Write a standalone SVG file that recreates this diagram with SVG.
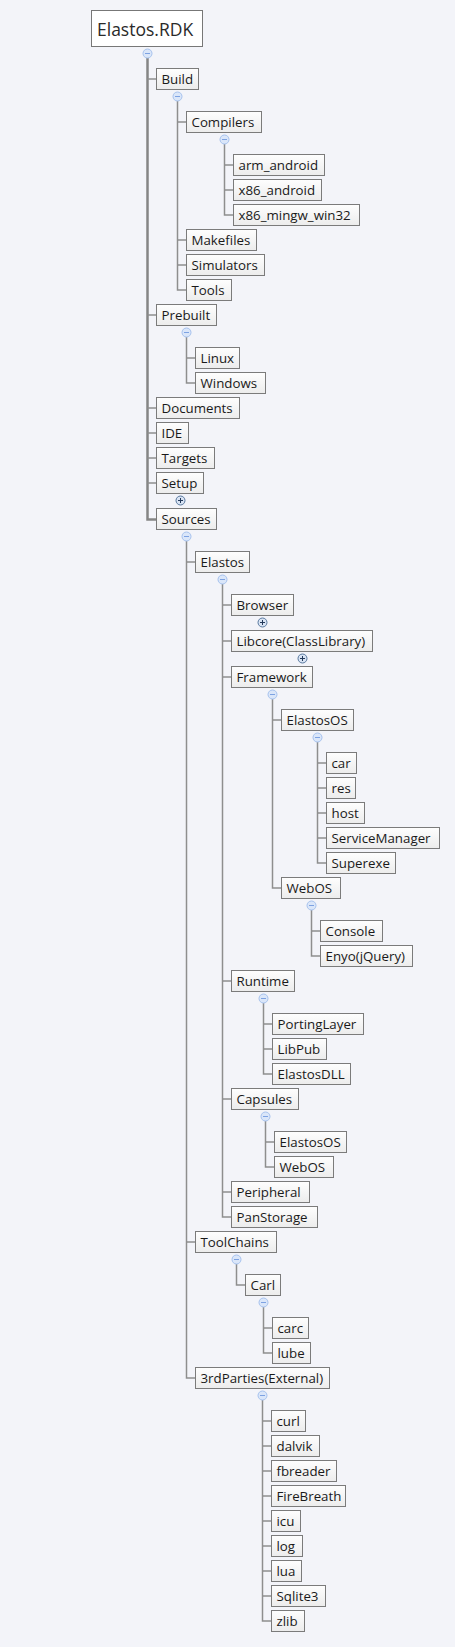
<svg xmlns="http://www.w3.org/2000/svg" width="455" height="1647" viewBox="0 0 455 1647">
<defs>
<linearGradient id="nf" x1="0" y1="0" x2="0" y2="1">
<stop offset="0" stop-color="#fefefe"/>
<stop offset="1" stop-color="#ececec"/>
</linearGradient>
<g id="minus"><circle r="4.5" fill="#dae6f9" stroke="#a6c2ee" stroke-width="1"/><path d="M-2.5,0H2.5" stroke="#7da2e2" stroke-width="1"/></g>
<g id="plus"><circle r="4.5" fill="#d8e3f3" stroke="#58789e" stroke-width="1"/><path d="M-2.5,0H2.5M0,-2.5V2.5" stroke="#23395a" stroke-width="1"/></g>
</defs>
<style>
.n rect{fill:url(#nf);stroke:#7b7b7b;stroke-width:1}
.n text{font-family:"Open Sans","Noto Sans","Liberation Sans",sans-serif;font-size:13.3px;fill:#1a1a1a}
.r rect{fill:#ffffff;stroke:#777777;stroke-width:1}
.r text{font-family:"Open Sans","Noto Sans","Liberation Sans",sans-serif;font-size:17.5px;fill:#2a2a2a}
.c path{fill:none;stroke:#8e8e8e;stroke-width:1.5}
.c path.main{stroke:#858585;stroke-width:2.5}
</style>
<rect width="455" height="1647" fill="#f3f4f9"/>
<g id="connectors" class="c">
<path class="main" d="M147.5,58V519.5H156.5"/>
<path d="M147.5,79H156.5M147.5,315H156.5M147.5,408H156.5M147.5,433H156.5M147.5,458H156.5M147.5,483H156.5"/>
<path d="M177.5,101V290H186.5M177.5,122H186.5M177.5,240H186.5M177.5,265H186.5"/>
<path d="M224.5,144V215H233.5M224.5,165H233.5M224.5,190H233.5"/>
<path d="M186.5,337V383H195.5M186.5,358H195.5"/>
<path d="M186.5,541V1378H195.5M186.5,562H195.5M186.5,1242H195.5"/>
<path d="M222.5,584V1217H231.5M222.5,605H231.5M222.5,641H231.5M222.5,677H231.5M222.5,981H231.5M222.5,1099H231.5M222.5,1192H231.5"/>
<path d="M272.5,699V888H281.5M272.5,720H281.5"/>
<path d="M317.5,742V863H326.5M317.5,763H326.5M317.5,788H326.5M317.5,813H326.5M317.5,838H326.5"/>
<path d="M311.5,910V956H320.5M311.5,931H320.5"/>
<path d="M263.5,1003V1074H272.5M263.5,1024H272.5M263.5,1049H272.5"/>
<path d="M265.5,1121V1167H274.5M265.5,1142H274.5"/>
<path d="M236.5,1264V1285H245.5"/>
<path d="M263.5,1307V1353H272.5M263.5,1328H272.5"/>
<path d="M262.5,1400V1621H271.5M262.5,1421H271.5M262.5,1446H271.5M262.5,1471H271.5M262.5,1496H271.5M262.5,1521H271.5M262.5,1546H271.5M262.5,1571H271.5M262.5,1596H271.5"/>
</g>
<g id="toggles">
<use href="#minus" x="147.5" y="53.5"/>
<use href="#minus" x="177.5" y="96.5"/>
<use href="#minus" x="224.5" y="139.5"/>
<use href="#minus" x="186.5" y="332.5"/>
<use href="#plus" x="180.5" y="500.5"/>
<use href="#minus" x="186.5" y="536.5"/>
<use href="#minus" x="222.5" y="579.5"/>
<use href="#plus" x="262.5" y="622.5"/>
<use href="#plus" x="302.5" y="658.5"/>
<use href="#minus" x="272.5" y="694.5"/>
<use href="#minus" x="317.5" y="737.5"/>
<use href="#minus" x="311.5" y="905.5"/>
<use href="#minus" x="263.5" y="998.5"/>
<use href="#minus" x="265.5" y="1116.5"/>
<use href="#minus" x="236.5" y="1259.5"/>
<use href="#minus" x="263.5" y="1302.5"/>
<use href="#minus" x="262.5" y="1395.5"/>
</g>
<g id="root" class="r"><rect x="91.5" y="10.5" width="111" height="36"/><text x="97" y="35.5">Elastos.RDK</text></g>
<g id="build" class="n"><rect x="156.5" y="68.5" width="42" height="21"/><text x="161.5" y="84">Build</text></g>
<g id="compilers" class="n"><rect x="186.5" y="111.5" width="75" height="21"/><text x="191.5" y="127">Compilers</text></g>
<g id="arm_android" class="n"><rect x="233.5" y="154.5" width="91" height="21"/><text x="238.5" y="170">arm_android</text></g>
<g id="x86_android" class="n"><rect x="233.5" y="179.5" width="88" height="21"/><text x="238.5" y="195">x86_android</text></g>
<g id="x86_mingw_win32" class="n"><rect x="233.5" y="204.5" width="126" height="21"/><text x="238.5" y="220">x86_mingw_win32</text></g>
<g id="makefiles" class="n"><rect x="186.5" y="229.5" width="70" height="21"/><text x="191.5" y="245">Makefiles</text></g>
<g id="simulators" class="n"><rect x="186.5" y="254.5" width="78" height="21"/><text x="191.5" y="270">Simulators</text></g>
<g id="tools" class="n"><rect x="186.5" y="279.5" width="45" height="21"/><text x="191.5" y="295">Tools</text></g>
<g id="prebuilt" class="n"><rect x="156.5" y="304.5" width="60" height="21"/><text x="161.5" y="320">Prebuilt</text></g>
<g id="linux" class="n"><rect x="195.5" y="347.5" width="44" height="21"/><text x="200.5" y="363">Linux</text></g>
<g id="windows" class="n"><rect x="195.5" y="372.5" width="70" height="21"/><text x="200.5" y="388">Windows</text></g>
<g id="documents" class="n"><rect x="156.5" y="397.5" width="83" height="21"/><text x="161.5" y="413">Documents</text></g>
<g id="ide" class="n"><rect x="156.5" y="422.5" width="32" height="21"/><text x="161.5" y="438">IDE</text></g>
<g id="targets" class="n"><rect x="156.5" y="447.5" width="58" height="21"/><text x="161.5" y="463">Targets</text></g>
<g id="setup" class="n"><rect x="156.5" y="472.5" width="47" height="21"/><text x="161.5" y="488">Setup</text></g>
<g id="sources" class="n"><rect x="156.5" y="508.5" width="60" height="21"/><text x="161.5" y="524">Sources</text></g>
<g id="elastos" class="n"><rect x="195.5" y="551.5" width="54" height="21"/><text x="200.5" y="567">Elastos</text></g>
<g id="browser" class="n"><rect x="231.5" y="594.5" width="62" height="21"/><text x="236.5" y="610">Browser</text></g>
<g id="libcore" class="n"><rect x="231.5" y="630.5" width="141" height="21"/><text x="236.5" y="646">Libcore(ClassLibrary)</text></g>
<g id="framework" class="n"><rect x="231.5" y="666.5" width="81" height="21"/><text x="236.5" y="682">Framework</text></g>
<g id="fw_elastosos" class="n"><rect x="281.5" y="709.5" width="72" height="21"/><text x="286.5" y="725">ElastosOS</text></g>
<g id="car" class="n"><rect x="326.5" y="752.5" width="30" height="21"/><text x="331.5" y="768">car</text></g>
<g id="res" class="n"><rect x="326.5" y="777.5" width="29" height="21"/><text x="331.5" y="793">res</text></g>
<g id="host" class="n"><rect x="326.5" y="802.5" width="38" height="21"/><text x="331.5" y="818">host</text></g>
<g id="servicemanager" class="n"><rect x="326.5" y="827.5" width="113" height="21"/><text x="331.5" y="843">ServiceManager</text></g>
<g id="superexe" class="n"><rect x="326.5" y="852.5" width="69" height="21"/><text x="331.5" y="868">Superexe</text></g>
<g id="fw_webos" class="n"><rect x="281.5" y="877.5" width="59" height="21"/><text x="286.5" y="893">WebOS</text></g>
<g id="console" class="n"><rect x="320.5" y="920.5" width="62" height="21"/><text x="325.5" y="936">Console</text></g>
<g id="enyo" class="n"><rect x="320.5" y="945.5" width="92" height="21"/><text x="325.5" y="961">Enyo(jQuery)</text></g>
<g id="runtime" class="n"><rect x="231.5" y="970.5" width="63" height="21"/><text x="236.5" y="986">Runtime</text></g>
<g id="portinglayer" class="n"><rect x="272.5" y="1013.5" width="91" height="21"/><text x="277.5" y="1029">PortingLayer</text></g>
<g id="libpub" class="n"><rect x="272.5" y="1038.5" width="54" height="21"/><text x="277.5" y="1054">LibPub</text></g>
<g id="elastosdll" class="n"><rect x="272.5" y="1063.5" width="78" height="21"/><text x="277.5" y="1079">ElastosDLL</text></g>
<g id="capsules" class="n"><rect x="231.5" y="1088.5" width="67" height="21"/><text x="236.5" y="1104">Capsules</text></g>
<g id="cap_elastosos" class="n"><rect x="274.5" y="1131.5" width="72" height="21"/><text x="279.5" y="1147">ElastosOS</text></g>
<g id="cap_webos" class="n"><rect x="274.5" y="1156.5" width="59" height="21"/><text x="279.5" y="1172">WebOS</text></g>
<g id="peripheral" class="n"><rect x="231.5" y="1181.5" width="78" height="21"/><text x="236.5" y="1197">Peripheral</text></g>
<g id="panstorage" class="n"><rect x="231.5" y="1206.5" width="86" height="21"/><text x="236.5" y="1222">PanStorage</text></g>
<g id="toolchains" class="n"><rect x="195.5" y="1231.5" width="81" height="21"/><text x="200.5" y="1247">ToolChains</text></g>
<g id="carl" class="n"><rect x="245.5" y="1274.5" width="35" height="21"/><text x="250.5" y="1290">Carl</text></g>
<g id="carc" class="n"><rect x="272.5" y="1317.5" width="36" height="21"/><text x="277.5" y="1333">carc</text></g>
<g id="lube" class="n"><rect x="272.5" y="1342.5" width="38" height="21"/><text x="277.5" y="1358">lube</text></g>
<g id="thirdparties" class="n"><rect x="195.5" y="1367.5" width="134" height="21"/><text x="200.5" y="1383">3rdParties(External)</text></g>
<g id="curl" class="n"><rect x="271.5" y="1410.5" width="34" height="21"/><text x="276.5" y="1426">curl</text></g>
<g id="dalvik" class="n"><rect x="271.5" y="1435.5" width="48" height="21"/><text x="276.5" y="1451">dalvik</text></g>
<g id="fbreader" class="n"><rect x="271.5" y="1460.5" width="65" height="21"/><text x="276.5" y="1476">fbreader</text></g>
<g id="firebreath" class="n"><rect x="271.5" y="1485.5" width="74" height="21"/><text x="276.5" y="1501">FireBreath</text></g>
<g id="icu" class="n"><rect x="271.5" y="1510.5" width="29" height="21"/><text x="276.5" y="1526">icu</text></g>
<g id="log" class="n"><rect x="271.5" y="1535.5" width="31" height="21"/><text x="276.5" y="1551">log</text></g>
<g id="lua" class="n"><rect x="271.5" y="1560.5" width="30" height="21"/><text x="276.5" y="1576">lua</text></g>
<g id="sqlite3" class="n"><rect x="271.5" y="1585.5" width="54" height="21"/><text x="276.5" y="1601">Sqlite3</text></g>
<g id="zlib" class="n"><rect x="271.5" y="1610.5" width="33" height="21"/><text x="276.5" y="1626">zlib</text></g>
</svg>
